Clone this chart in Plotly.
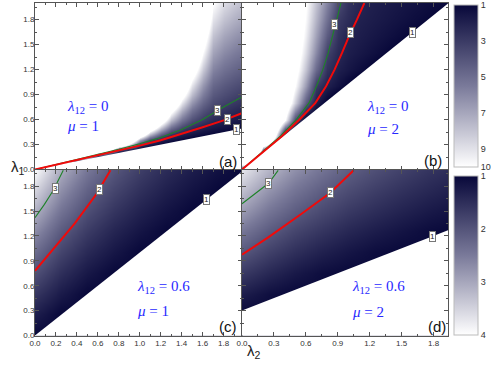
import plotly.graph_objects as go

W, H = 491, 374

# ---------------- data ----------------
# panel (a): lambda12 = 0, mu = 1  (values beyond the white edge / below contour 1 are extended)
A_X = [0, 0.2, 0.4, 0.6, 0.8, 1.0, 1.1, 1.2, 1.3, 1.4, 1.5, 1.6, 1.7, 1.8, 1.9, 2.0]
A_Y = [0, 0.05, 0.1, 0.15, 0.2, 0.25, 0.3, 0.35, 0.4, 0.45, 0.5, 0.6, 0.7, 0.8, 0.9, 1.0,
       1.2, 1.4, 1.6, 1.8, 2.0]
A_Z = [
    [1, 0, 0, 0, 0, 0, 0, 0, 0, 0, 0, 0, 0, 0, 0, 0],
    [30, 1, 0, 0, 0, 0, 0, 0, 0, 0, 0, 0, 0, 0, 0, 0],
    [30, 30, 1, 0, 0, 0, 0, 0, 0, 0, 0, 0, 0, 0, 0, 0],
    [30, 30, 17, 1, 0, 0, 0, 0, 0, 0, 0, 0, 0, 0, 0, 0],
    [30, 30, 30, 8.6, 1, 0, 0, 0, 0, 0, 0, 0, 0, 0, 0, 0],
    [30, 30, 30, 22.6, 4.32, 1, 0.42, 0.04, 0, 0, 0, 0, 0, 0, 0, 0],
    [30, 30, 30, 30, 13.8, 2.57, 1.58, 1, 0.6, 0.33, 0.17, 0.07, 0, 0, 0, 0],
    [30, 30, 30, 30, 23.2, 6.73, 3.30, 1.96, 1.40, 1, 0.72, 0.53, 0.4, 0.29, 0.24, 0.21],
    [30, 30, 30, 30, 30, 11.4, 6.35, 3.64, 2.30, 1.67, 1.28, 1, 0.8, 0.64, 0.55, 0.47],
    [30, 30, 30, 30, 30, 16.1, 9.39, 5.76, 3.56, 2.45, 1.83, 1.47, 1.2, 1, 0.85, 0.74],
    [30, 30, 30, 30, 30, 20.7, 12.4, 7.88, 4.96, 3.38, 2.5, 1.93, 1.6, 1.36, 1.15, 1],
    [30, 30, 30, 30, 30, 30, 18.5, 12.1, 7.76, 5.27, 3.83, 3.0, 2.38, 2.06, 1.76, 1.53],
    [30, 30, 30, 30, 30, 30, 24.6, 16.4, 10.56, 7.16, 5.12, 3.85, 3.11, 2.69, 2.33, 2.05],
    [30, 30, 30, 30, 30, 30, 30, 20.6, 13.4, 9.05, 6.40, 4.71, 3.65, 3.23, 2.89, 2.55],
    [30, 30, 30, 30, 30, 30, 30, 24.8, 16.2, 10.9, 7.69, 5.56, 4.18, 3.7, 3.35, 3.04],
    [30, 30, 30, 30, 30, 30, 30, 29.1, 19.0, 12.8, 8.97, 6.41, 4.72, 4.17, 3.8, 3.46],
    [30, 30, 30, 30, 30, 30, 30, 30, 24.6, 16.6, 11.5, 8.12, 5.8, 5.1, 4.68, 4.31],
    [30, 30, 30, 30, 30, 30, 30, 30, 30, 20.4, 14.1, 9.83, 6.88, 6.03, 5.57, 5.15],
    [30, 30, 30, 30, 30, 30, 30, 30, 30, 24.2, 16.7, 11.5, 7.95, 6.97, 6.46, 5.99],
    [30, 30, 30, 30, 30, 30, 30, 30, 30, 28.0, 19.2, 13.2, 9.03, 7.9, 7.34, 6.83],
    [30, 30, 30, 30, 30, 30, 30, 30, 30, 30, 21.8, 15.0, 10.1, 8.83, 8.23, 7.68],
]
A_L1_X = [0, 2.0]
A_L1_Y = [0, 0.5]
A_L2_X = [0, 0.2, 0.4, 0.6, 0.8, 1.0, 1.2, 1.4, 1.6, 1.8, 1.98]
A_L2_Y = [0, 0.056, 0.112, 0.168, 0.226, 0.287, 0.352, 0.425, 0.507, 0.59, 0.68]
A_L3_X = [0, 0.2, 0.4, 0.6, 0.8, 1.0, 1.2, 1.4, 1.6, 1.8, 1.98]
A_L3_Y = [0, 0.06, 0.12, 0.18, 0.243, 0.31, 0.385, 0.48, 0.60, 0.75, 0.875]

# panel (b): lambda12 = 0, mu = 2
B_X = [0, 0.1, 0.2, 0.3, 0.4, 0.5, 0.6, 0.7, 0.8, 0.9, 1.0, 1.1, 1.2, 1.4, 1.6, 1.8, 2.0]
B_Y = [0, 0.2, 0.4, 0.6, 0.8, 1.0, 1.2, 1.4, 1.6, 1.8, 2.0]
B_Z = [
    [1, 0, 0, 0, 0, 0, 0, 0, 0, 0, 0, 0, 0, 0, 0, 0, 0],
    [30, 30, 0, 0, 0, 0, 0, 0, 0, 0, 0, 0, 0, 0, 0, 0, 0],
    [30, 30, 25.4, 11.4, 0.08, 0, 0, 0, 0, 0, 0, 0, 0, 0, 0, 0, 0],
    [30, 29.1, 22.7, 16.4, 10.0, 3.64, 0.6, 0, 0, 0, 0, 0, 0, 0, 0, 0, 0],
    [29, 24.8, 20.7, 16.6, 12.5, 8.35, 4.24, 1.89, 0.74, 0, 0, 0, 0, 0, 0, 0, 0],
    [27.5, 24, 20.5, 17, 13.5, 10, 6.5, 3, 1.94, 1.39, 0.84, 0.29, 0, 0, 0, 0, 0],
    [26.1, 23.1, 20.1, 17, 14, 10.9, 7.87, 4.83, 2.64, 1.9, 1.56, 1.22, 0.88, 0.2, 0, 0, 0],
    [25.3, 22.5, 19.7, 17, 14.2, 11.5, 8.76, 6.02, 3.27, 2.31, 1.86, 1.62, 1.38, 0.9, 0.42, 0, 0],
    [24.7, 22, 19.5, 17, 14.4, 11.9, 9.36, 6.82, 4.27, 2.68, 2.03, 1.83, 1.64, 1.28, 0.91, 0.55, 0.18],
    [23.7, 21.4, 19.1, 16.8, 14.4, 12.1, 9.77, 7.43, 5.1, 2.95, 2.42, 1.97, 1.82, 1.52, 1.22, 0.92, 0.62],
    [23, 20.9, 18.7, 16.6, 14.4, 12.3, 10.1, 7.95, 5.8, 3.65, 2.68, 2.23, 1.94, 1.68, 1.43, 1.18, 0.93],
]
B_L1_X = [0, 2.0]
B_L1_Y = [0, 2.06]
B_L2_X = [0, 0.19, 0.375, 0.54, 0.69, 0.79, 0.87, 0.94, 1.005, 1.08, 1.15]
B_L2_Y = [0, 0.2, 0.4, 0.6, 0.8, 1.0, 1.2, 1.4, 1.6, 1.8, 2.0]
B_L3_X = [0, 0.185, 0.36, 0.51, 0.63, 0.70, 0.76, 0.81, 0.85, 0.89, 0.93]
B_L3_Y = [0, 0.2, 0.4, 0.6, 0.8, 1.0, 1.2, 1.4, 1.6, 1.8, 2.0]

# panel (c): lambda12 = 0.6, mu = 1
C_X = [0, 0.25, 0.5, 0.75, 1.0, 1.25, 1.5, 1.75, 2.0]
C_Y = [0, 0.25, 0.5, 0.75, 1.0, 1.25, 1.5, 1.75, 2.0]
C_Z = [
    [1, 1, 1, 1, 1, 1, 1, 1, 1],
    [1.29, 1, 1, 1, 1, 1, 1, 1, 1],
    [1.60, 1.24, 1, 1, 1, 1, 1, 1, 1],
    [1.94, 1.51, 1.21, 1, 1, 1, 1, 1, 1],
    [2.30, 1.79, 1.44, 1.19, 1, 1, 1, 1, 1],
    [2.69, 2.08, 1.68, 1.38, 1.17, 1, 1, 1, 1],
    [3.09, 2.40, 1.93, 1.59, 1.34, 1.15, 1, 1, 1],
    [3.51, 2.73, 2.19, 1.81, 1.53, 1.31, 1.14, 1, 1],
    [3.96, 3.07, 2.47, 2.04, 1.72, 1.47, 1.28, 1.13, 1],
]
C_L1_X = [0, 2.0]
C_L1_Y = [0, 2.0]
C_L2_X = [0, 0.19, 0.38, 0.59, 0.72]
C_L2_Y = [0.78, 1.06, 1.35, 1.71, 1.99]
C_L3_X = [0, 0.09, 0.175, 0.27]
C_L3_Y = [1.42, 1.58, 1.75, 1.99]

# panel (d): lambda12 = 0.6, mu = 2
D_X = [0, 0.25, 0.5, 0.75, 1.0, 1.25, 1.5, 1.75, 2.0]
D_Y = [0, 0.25, 0.5, 0.75, 1.0, 1.25, 1.5, 1.75, 2.0]
D_Z = [
    [1, 1, 1, 1, 1, 1, 1, 1, 1],
    [1, 1, 1, 1, 1, 1, 1, 1, 1],
    [1.28, 1.09, 1, 1, 1, 1, 1, 1, 1],
    [1.65, 1.41, 1.22, 1.07, 1, 1, 1, 1, 1],
    [2.04, 1.74, 1.51, 1.32, 1.18, 1.06, 1, 1, 1],
    [2.44, 2.08, 1.80, 1.59, 1.41, 1.27, 1.15, 1.05, 1],
    [2.86, 2.43, 2.11, 1.86, 1.65, 1.49, 1.35, 1.23, 1.13],
    [3.28, 2.79, 2.42, 2.13, 1.90, 1.71, 1.55, 1.42, 1.30],
    [3.72, 3.17, 2.75, 2.42, 2.15, 1.94, 1.76, 1.60, 1.47],
]
D_L1_X = [0, 2.0]
D_L1_Y = [0.3, 1.3]
D_L2_X = [0, 0.25, 0.56, 0.83, 1.05]
D_L2_Y = [0.975, 1.186, 1.467, 1.72, 1.99]
D_L3_X = [0, 0.12, 0.25, 0.34]
D_L3_Y = [1.587, 1.71, 1.834, 1.99]

# contour-label positions (level, lambda2, lambda1)
A_LABELS = [("1", 1.92, 0.475), ("2", 1.833, 0.605), ("3", 1.74, 0.71)]
B_LABELS = [("1", 1.605, 1.65), ("2", 1.02, 1.64), ("3", 0.87, 1.74)]
C_LABELS = [("1", 1.64, 1.64), ("2", 0.612, 1.755), ("3", 0.20, 1.77)]
D_LABELS = [("1", 1.786, 1.193), ("2", 0.83, 1.72), ("3", 0.25, 1.834)]

CB_TOP_TICKS = [1, 3, 5, 7, 9, 10]
CB_BOT_TICKS = [1, 2, 3, 4]

PANEL_TEXT = [("(a)", "0", "1"), ("(b)", "0", "2"), ("(c)", "0.6", "1"), ("(d)", "0.6", "2")]

# ---------------- figure ----------------
SCALE = [[0.0, "rgb(255,255,255)"], [0.5, "rgb(122,122,154)"], [1.0, "rgb(8,8,58)"]]
BLUE = "rgb(40,40,255)"
SERIF = "Liberation Serif, Times New Roman, serif"


def neg(z):
    return [[-v for v in row] for row in z]


fig = go.Figure()

panels = [
    ("x", "y", A_X, A_Y, A_Z, "coloraxis", A_L1_X, A_L1_Y, A_L2_X, A_L2_Y, A_L3_X, A_L3_Y, A_LABELS),
    ("x2", "y2", B_X, B_Y, B_Z, "coloraxis", B_L1_X, B_L1_Y, B_L2_X, B_L2_Y, B_L3_X, B_L3_Y, B_LABELS),
    ("x3", "y3", C_X, C_Y, C_Z, "coloraxis2", C_L1_X, C_L1_Y, C_L2_X, C_L2_Y, C_L3_X, C_L3_Y, C_LABELS),
    ("x4", "y4", D_X, D_Y, D_Z, "coloraxis2", D_L1_X, D_L1_Y, D_L2_X, D_L2_Y, D_L3_X, D_L3_Y, D_LABELS),
]

annotations = []
for (xa, ya, X, Y, Z, cax, l1x, l1y, l2x, l2y, l3x, l3y, labels) in panels:
    fig.add_trace(go.Heatmap(x=X, y=Y, z=neg(Z), coloraxis=cax, zsmooth="best",
                             xaxis=xa, yaxis=ya, hoverinfo="skip"))
    # empty (white) region beyond contour 1
    px = l1x + [3, 3, l1x[0]]
    py = l1y + [l1y[-1], -1, -1]
    fig.add_trace(go.Scatter(x=px, y=py, fill="toself", fillcolor="white", mode="lines",
                             line=dict(width=0, color="white"), xaxis=xa, yaxis=ya,
                             hoverinfo="skip", showlegend=False))
    fig.add_trace(go.Scatter(x=l3x, y=l3y, mode="lines", line=dict(color="rgb(30,130,40)", width=1.1),
                             xaxis=xa, yaxis=ya, hoverinfo="skip", showlegend=False))
    fig.add_trace(go.Scatter(x=l2x, y=l2y, mode="lines", line=dict(color="rgb(240,10,10)", width=2),
                             xaxis=xa, yaxis=ya, hoverinfo="skip", showlegend=False))
    for (t, lx, ly) in labels:
        annotations.append(dict(x=lx, y=ly, xref=xa, yref=ya, text=t, showarrow=False,
                                font=dict(family="Arial", size=8, color="#222"),
                                bgcolor="white", bordercolor="#777", borderwidth=1, borderpad=0))

XL = [35 / W, 242 / W]
XR = [242 / W, 448 / W]
YT = [(H - 169.5) / H, (H - 3) / H]
YB = [(H - 335.5) / H, (H - 169.5) / H]

tickfont = dict(family="Arial", size=8, color="#333")
common = dict(showline=True, linecolor="#555", linewidth=1, mirror="ticks", ticks="inside",
              ticklen=4, tickwidth=1, tickcolor="#555", showgrid=False, zeroline=False,
              tickfont=tickfont, tickformat=".1f")


def ax(domain, rng, dtick, labels, anchor, minor, standoff=0):
    d = dict(common)
    d.update(domain=domain, range=rng, dtick=dtick, tick0=0, showticklabels=labels, anchor=anchor,
             ticklabelstandoff=standoff,
             minor=dict(ticks="inside", ticklen=2, tickcolor="#555", dtick=minor))
    return d


fig.update_layout(
    width=W, height=H, margin=dict(l=0, r=0, t=0, b=0, autoexpand=False),
    paper_bgcolor="white", plot_bgcolor="white", showlegend=False,
    xaxis=ax(XL, [0, 1.976], 0.2, False, "y", 0.1),
    yaxis=ax(YT, [0, 2.0], 0.3, True, "x", 0.15, -2),
    xaxis2=ax(XR, [0, 1.936], 0.3, False, "y2", 0.15),
    yaxis2=ax(YT, [0, 2.0], 0.3, False, "x2", 0.15),
    xaxis3=ax(XL, [0, 1.976], 0.2, True, "y3", 0.1),
    yaxis3=ax(YB, [0, 2.0], 0.3, True, "x3", 0.15, -2),
    xaxis4=ax(XR, [0, 1.936], 0.3, True, "y4", 0.15),
    yaxis4=ax(YB, [0, 2.0], 0.3, False, "x4", 0.15),
    coloraxis=dict(cmin=-10, cmax=-1, colorscale=SCALE,
                   colorbar=dict(x=454 / W, xanchor="left", xpad=0, ypad=0, thickness=24,
                                 lenmode="pixels", len=162, y=(H - 86) / H, yanchor="middle",
                                 tickvals=[-t for t in CB_TOP_TICKS], ticktext=[str(t) for t in CB_TOP_TICKS],
                                 ticks="", tickfont=dict(family="Arial", size=9, color="#333"),
                                 outlinecolor="#bbb", outlinewidth=1)),
    coloraxis2=dict(cmin=-4, cmax=-1, colorscale=SCALE,
                    colorbar=dict(x=454 / W, xanchor="left", xpad=0, ypad=0, thickness=24,
                                  lenmode="pixels", len=159, y=(H - 255.5) / H, yanchor="middle",
                                  tickvals=[-t for t in CB_BOT_TICKS], ticktext=[str(t) for t in CB_BOT_TICKS],
                                  ticks="", tickfont=dict(family="Arial", size=9, color="#333"),
                                  outlinecolor="#bbb", outlinewidth=1)),
)

# panel texts
text_pos = [(65, 107, 126, 228, 161), (365, 107, 129, 433, 160),
            (135, 287, 311, 228, 326), (350, 287, 312, 437, 326)]
for (lab, l12, mu), (tx, ty1, ty2, lx, ly) in zip(PANEL_TEXT, text_pos):
    annotations.append(dict(x=tx / W, y=(H - ty1) / H, xref="paper", yref="paper", xanchor="left",
                            yanchor="middle", showarrow=False,
                            text="<i>λ</i><sub>12</sub> = " + l12,
                            font=dict(family=SERIF, size=15, color=BLUE)))
    annotations.append(dict(x=tx / W, y=(H - ty2) / H, xref="paper", yref="paper", xanchor="left",
                            yanchor="middle", showarrow=False,
                            text="<i>μ</i> = " + mu,
                            font=dict(family=SERIF, size=15, color=BLUE)))
    annotations.append(dict(x=lx / W, y=(H - ly) / H, xref="paper", yref="paper", xanchor="center",
                            yanchor="middle", showarrow=False, text=lab,
                            font=dict(family="Arial", size=15, color="#111")))

annotations.append(dict(x=9 / W, y=(H - 167) / H, xref="paper", yref="paper", showarrow=False,
                        text="λ<sub>1</sub>", font=dict(family="Arial", size=15, color="#222")))
annotations.append(dict(x=254 / W, y=(H - 363) / H, xref="paper", yref="paper", showarrow=False,
                        text="λ<sub>2</sub>", font=dict(family="Arial", size=15, color="#222")))

fig.update_layout(annotations=annotations)
fig.write_html("out.html", config={"displayModeBar": False},
               post_script="document.body.style.margin='0px';")
